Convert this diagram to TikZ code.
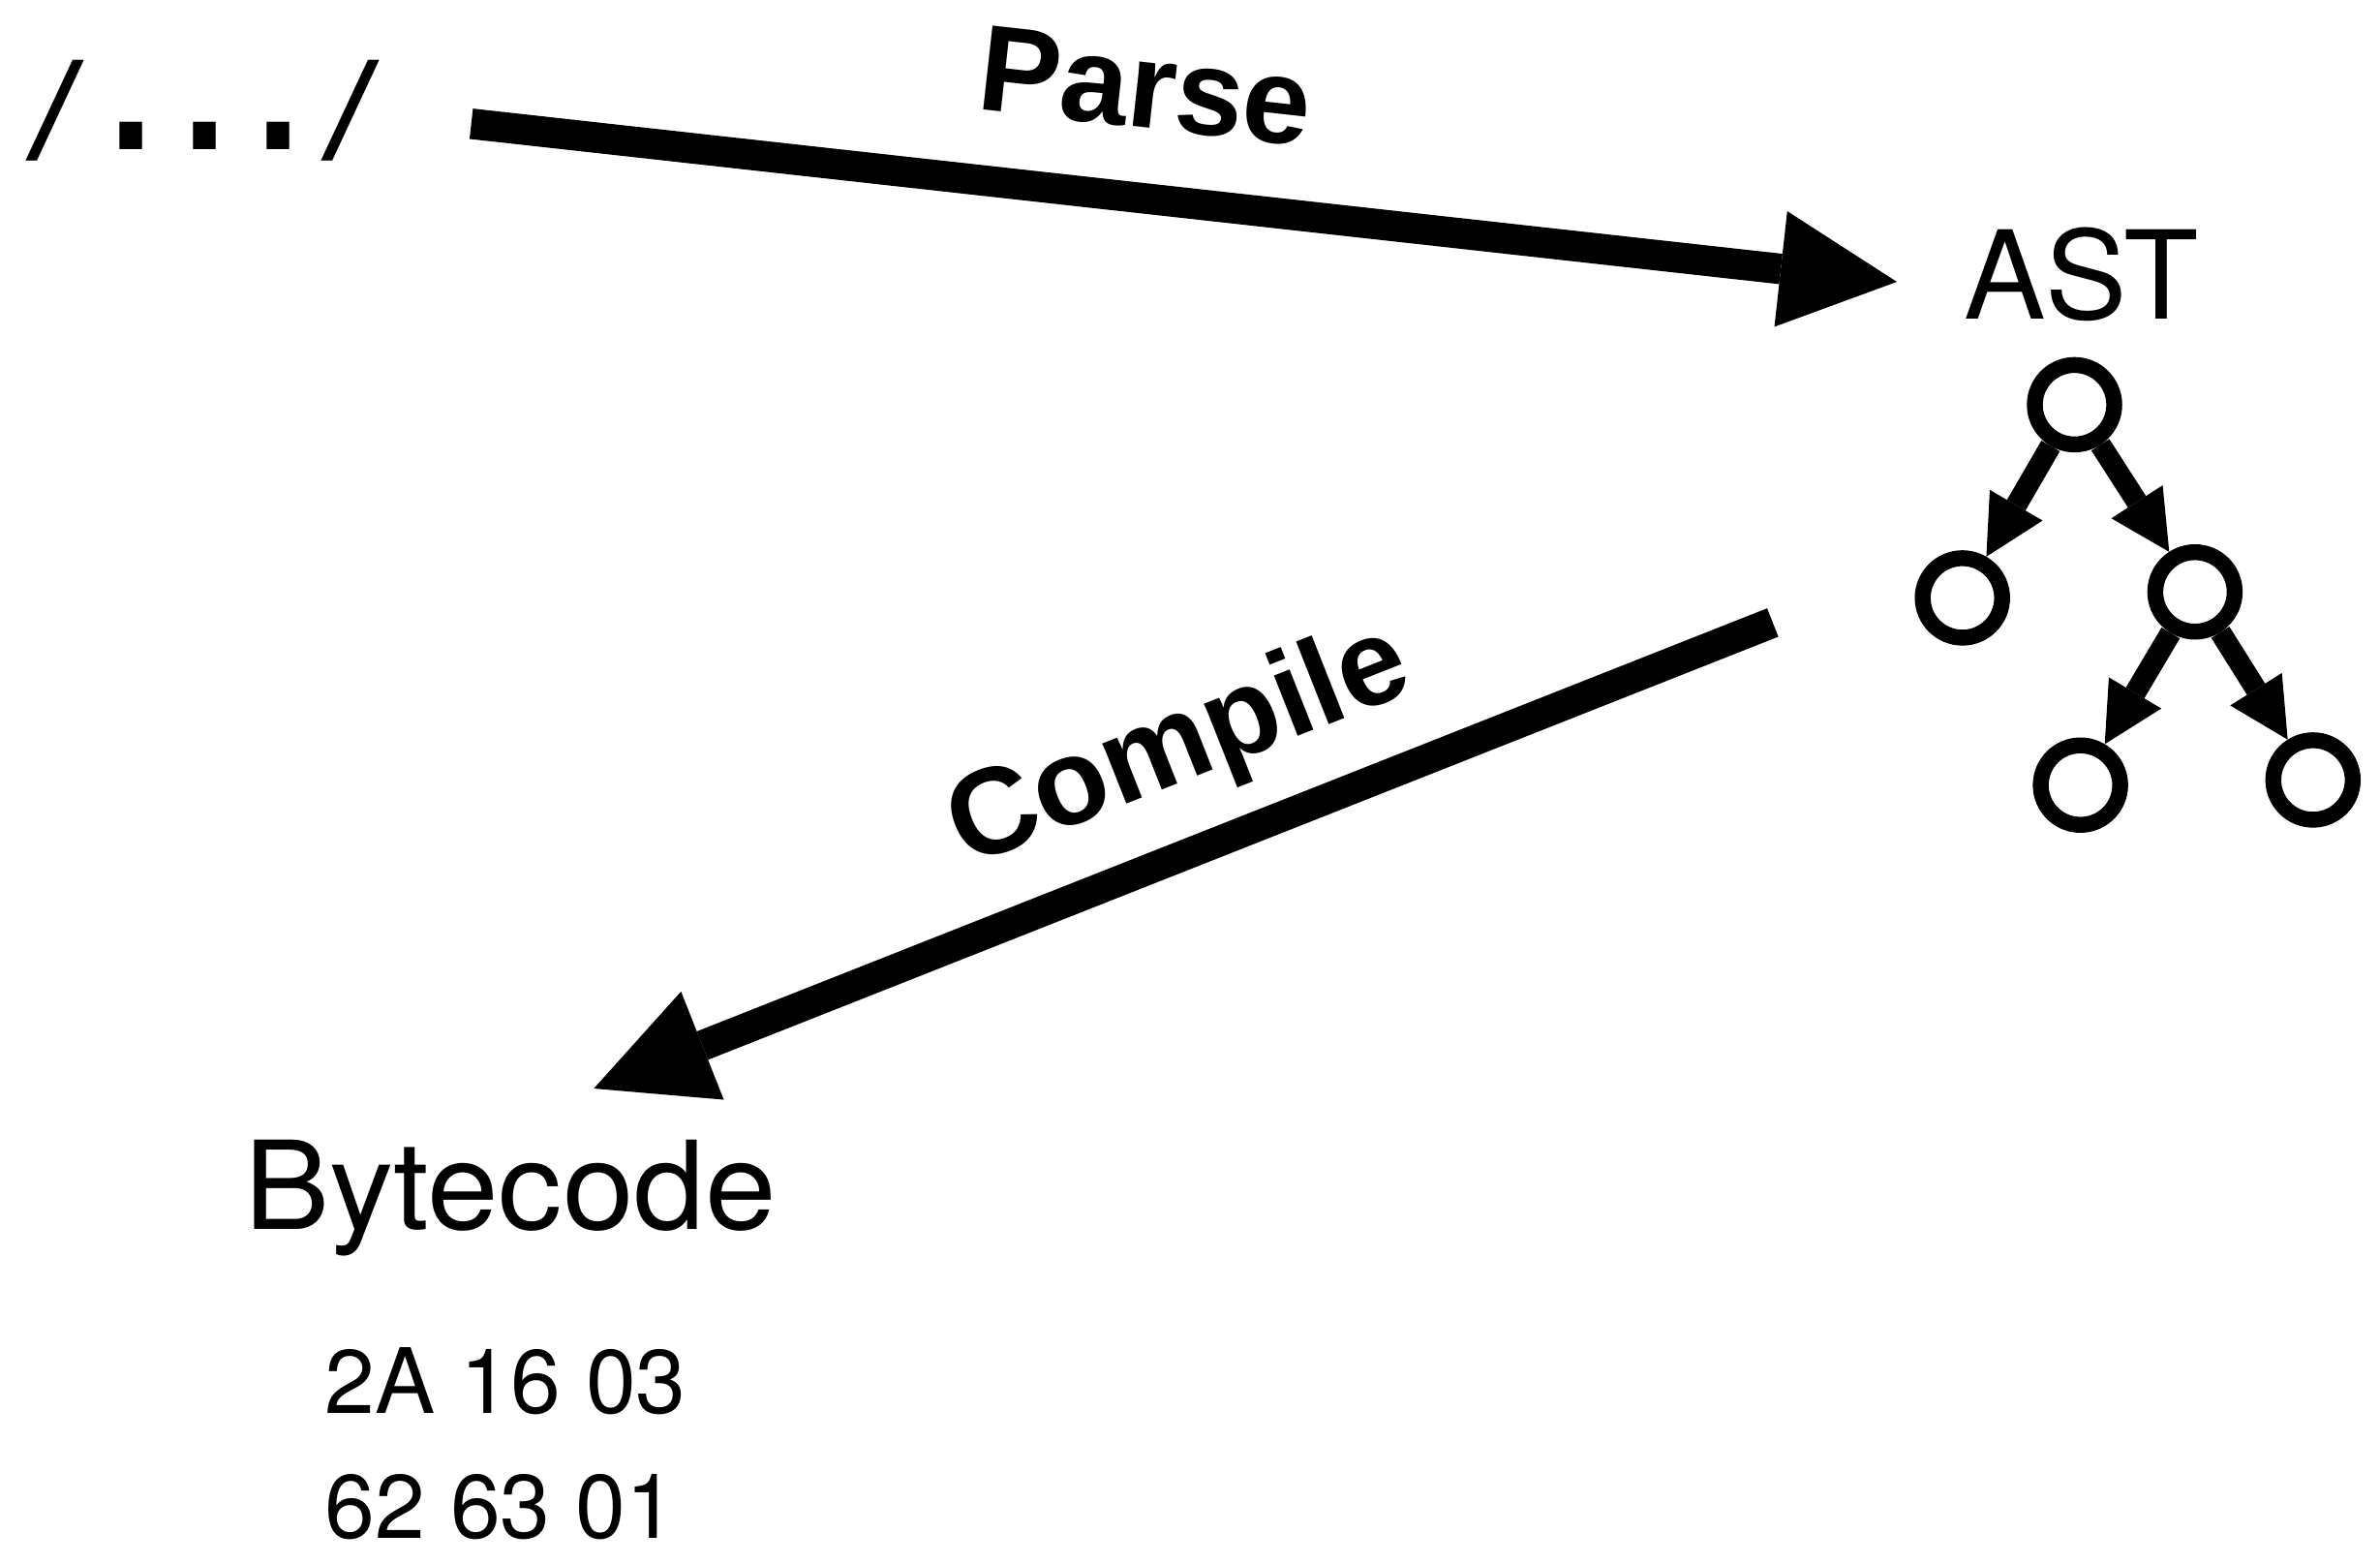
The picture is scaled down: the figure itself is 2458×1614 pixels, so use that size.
\documentclass[tikz,border=0pt]{standalone}
\usepackage{fontspec}
\setmainfont{TeX Gyre Heros}
\newfontfamily\labelfont{Liberation Sans}
\newfontfamily\codefont{DejaVu Sans Mono}
\usetikzlibrary{arrows.meta}

% one full-height dot in a monospaced cell
\newcommand{\codedot}{\makebox[0.602em][c]{\fontsize{54}{54}\selectfont.}}

\tikzset{
  label36/.style={inner sep=0pt, outer sep=0pt, anchor=base west,
    font=\fontsize{36}{43}\selectfont},
  stage/.style={label36, font=\fontsize{36}{43}\selectfont\labelfont\bfseries},
  bytes/.style={inner sep=0pt, outer sep=0pt, anchor=base west,
    font=\fontsize{26.5}{32}\selectfont},
  bigarrow/.style={line width=0.315cm,
    -{Triangle[length=1.205cm, width=1.2cm, line width=0pt]}},
  treenode/.style={circle, draw, line width=0.164cm, minimum size=0.82cm,
    inner sep=0pt},
  treeedge/.style={line width=0.22cm,
    -{Triangle[length=0.614cm, width=0.63cm, line width=0pt]}},
}

\begin{document}
\begin{tikzpicture}[x=0.01cm, y=-0.01cm]
  \useasboundingbox (0,0) rectangle (2458,1614);

  % source regex
  \node[label36, font=\fontsize{36}{43}\selectfont\codefont] (regex) at (21,154.8)
    {/\codedot\codedot\codedot/};

  % parse step
  \coordinate (parseStart) at (486.7,127.8);
  \coordinate (parseEnd) at (1959,291);
  \draw[bigarrow] (parseStart) -- (parseEnd);
  \node[stage, rotate=-6.33] (parse) at (1007.2,112.8) {Parse};

  % syntax tree
  \node[label36] (ast) at (2028,329.5) {AST};
  \node[treenode] (root) at (2142.5,417.9) {};
  \node[treenode] (l)    at (2026.7,617.4) {};
  \node[treenode] (r)    at (2266.9,611.2) {};
  \node[treenode] (rl)   at (2148.6,810.7) {};
  \node[treenode] (rr)   at (2388.8,805.4) {};
  \draw[treeedge] (root) -- (l);
  \draw[treeedge] (root) -- (r);
  \draw[treeedge] (r) -- (rl);
  \draw[treeedge] (r) -- (rr);

  % compile step
  \coordinate (compileStart) at (1830.8,642.8);
  \coordinate (compileEnd) at (613.3,1124);
  \draw[bigarrow] (compileStart) -- (compileEnd);
  \node[stage, rotate=21.57] (compile) at (998.7,895.8) {Compile};

  % bytecode output
  \node[label36] (bytecode) at (252,1269) {\addfontfeature{FakeStretch=1.045}Bytecode};
  \node[bytes] (line1) at (335.6,1459) {2A 16 03};
  \node[bytes] (line2) at (335.6,1588.4) {62 63 01};
\end{tikzpicture}
\end{document}
